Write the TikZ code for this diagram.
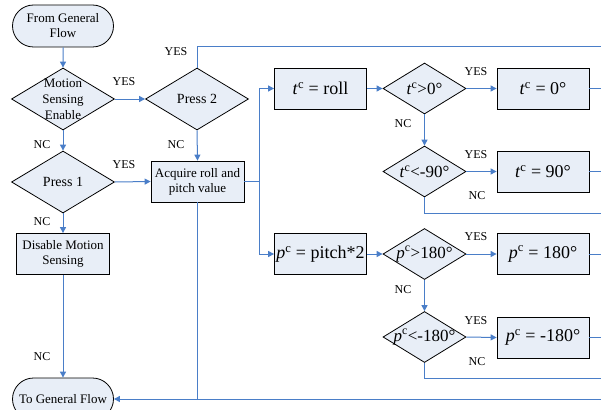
\documentclass[tikz,border=0pt]{standalone}
\usepackage{fontspec}
\setmainfont{Liberation Serif}
\usetikzlibrary{arrows.meta,shapes.geometric,shapes.misc}
\definecolor{flowblue}{HTML}{4A7EC8}
\definecolor{boxfill}{HTML}{E8EEF7}
\newcommand{\tsup}{\textit{t}\textsuperscript{c}}
\newcommand{\psup}{\textit{p}\textsuperscript{c}}
\tikzset{
  term/.style={rounded rectangle, draw, line width=0.8pt, fill=boxfill, minimum width=103pt, minimum height=42pt, inner sep=1pt, align=center, font=\fontsize{13}{15}\selectfont},
  proc/.style={rectangle, draw, line width=0.8pt, fill=boxfill, minimum width=93pt, minimum height=41pt, inner sep=1pt, align=center, font=\fontsize{13}{15}\selectfont},
  mproc/.style={proc, minimum width=92pt, font=\fontsize{18}{20}\selectfont},
  dec/.style={diamond, draw, line width=0.8pt, fill=boxfill, minimum width=103pt, minimum height=62pt, inner sep=0pt},
  mdec/.style={dec, minimum width=83pt, minimum height=51pt},
  dectext/.style={align=center, font=\fontsize{13}{16}\selectfont},
  pressText/.style={font=\fontsize{14}{16}\selectfont},
  mtext/.style={font=\fontsize{17}{19}\selectfont},
  flow/.style={draw=flowblue, line width=1pt, -{Triangle[length=6pt,width=6pt]}},
  line/.style={draw=flowblue, line width=1pt},
  lab/.style={font=\fontsize{12}{13}\selectfont}
}

\begin{document}
\begin{tikzpicture}[x=1pt,y=-1pt]
\clip (0,0) rectangle (601,409);

% left part
\node[term] (from) at (63,26) {From General\\Flow};
\node[dec, label={[dectext]center:Motion\\Sensing\\Enable}] (mse) at (63,99) {};
\node[dec, label={[pressText]center:Press 2}] (press2) at (197,99) {};
\node[dec, label={[pressText]center:Press 1}] (press1) at (63,182) {};
\node[proc] (acq) at (197.5,181.5) {Acquire roll and\\pitch value};
\node[proc] (dis) at (63,254) {Disable Motion\\Sensing};
\node[term] (to) at (63,399) {To General Flow};

% right part
\node[mproc] (troll) at (320.5,88.5) {\tsup\ = roll};
\node[mdec, label={[mtext]center:\tsup>0°}] (tpos) at (424.5,88.5) {};
\node[mproc] (tzero) at (543,88.5) {\tsup\ = 0°};
\node[mdec, label={[mtext]center:\tsup<-90°}] (tneg) at (424.5,171.5) {};
\node[mproc] (tninety) at (543,171.5) {\tsup\ = 90°};

\node[mproc] (ppitch) at (320.5,254) {\psup\ = pitch*2};
\node[mdec, label={[mtext]center:\psup>180°}] (ppos) at (424.5,254) {};
\node[mproc] (pmax) at (543,254) {\psup\ = 180°};
\node[mdec, label={[mtext]center:\psup<-180°}] (pneg) at (424.5,337) {};
\node[mproc] (pmin) at (543,337.5) {\psup\ = -180°};

% free ends at the right edge
\coordinate (top) at (610,47);
\coordinate (tback) at (610,213);
\coordinate (pback) at (610,378);
\coordinate (bot) at (610,399);
\coordinate (edge) at (610,0);
\coordinate (split) at (259,181.5);

% labels
\node[lab] at (124,82) {YES};
\node[lab] at (176,52) {YES};
\node[lab] at (42,145) {NC};
\node[lab] at (176,145) {NC};
\node[lab] at (124,165) {YES};
\node[lab] at (42,222) {NC};
\node[lab] at (42,357) {NC};

\node[lab] at (476,72) {YES};
\node[lab] at (403,124) {NC};
\node[lab] at (476,155) {YES};
\node[lab] at (477,196) {NC};
\node[lab] at (476,237) {YES};
\node[lab] at (403,290) {NC};
\node[lab] at (476,321) {YES};
\node[lab] at (477,362) {NC};

% connectors
\draw[flow] (from) -- (mse);
\draw[flow] (mse.east) -- (press2.west);
\draw[flow] (mse.south) -- (press1.north);
\draw[line] (press2.north) |- (top);
\draw[flow] (press2.south) -- (acq.north);
\draw[flow] (press1.east) -- (acq.west);
\draw[flow] (press1.south) -- (dis.north);
\draw[flow] (dis.south) -- (to.north);

\draw[line] (acq.east) -- (split);
\draw[flow] (split) |- (troll.west);
\draw[flow] (split) |- (ppitch.west);
\draw[line] (acq.south) -- (acq.south |- bot);
\draw[flow] (bot) -- (to.east);

\draw[flow] (troll.east) -- (tpos.west);
\draw[flow] (tpos.east) -- (tzero.west);
\draw[line] (tzero.east) -- (tzero.east -| edge);
\draw[flow] (tpos.south) -- (tneg.north);
\draw[flow] (tneg.east) -- (tninety.west);
\draw[line] (tninety.east) -- (tninety.east -| edge);
\draw[line] (tneg.south) |- (tback);

\draw[flow] (ppitch.east) -- (ppos.west);
\draw[flow] (ppos.east) -- (pmax.west);
\draw[line] (pmax.east) -- (pmax.east -| edge);
\draw[flow] (ppos.south) -- (pneg.north);
\draw[flow] (pneg.east) -- (pmin.west);
\draw[line] (pmin.east) -- (pmin.east -| edge);
\draw[line] (pneg.south) |- (pback);
\end{tikzpicture}
\end{document}
